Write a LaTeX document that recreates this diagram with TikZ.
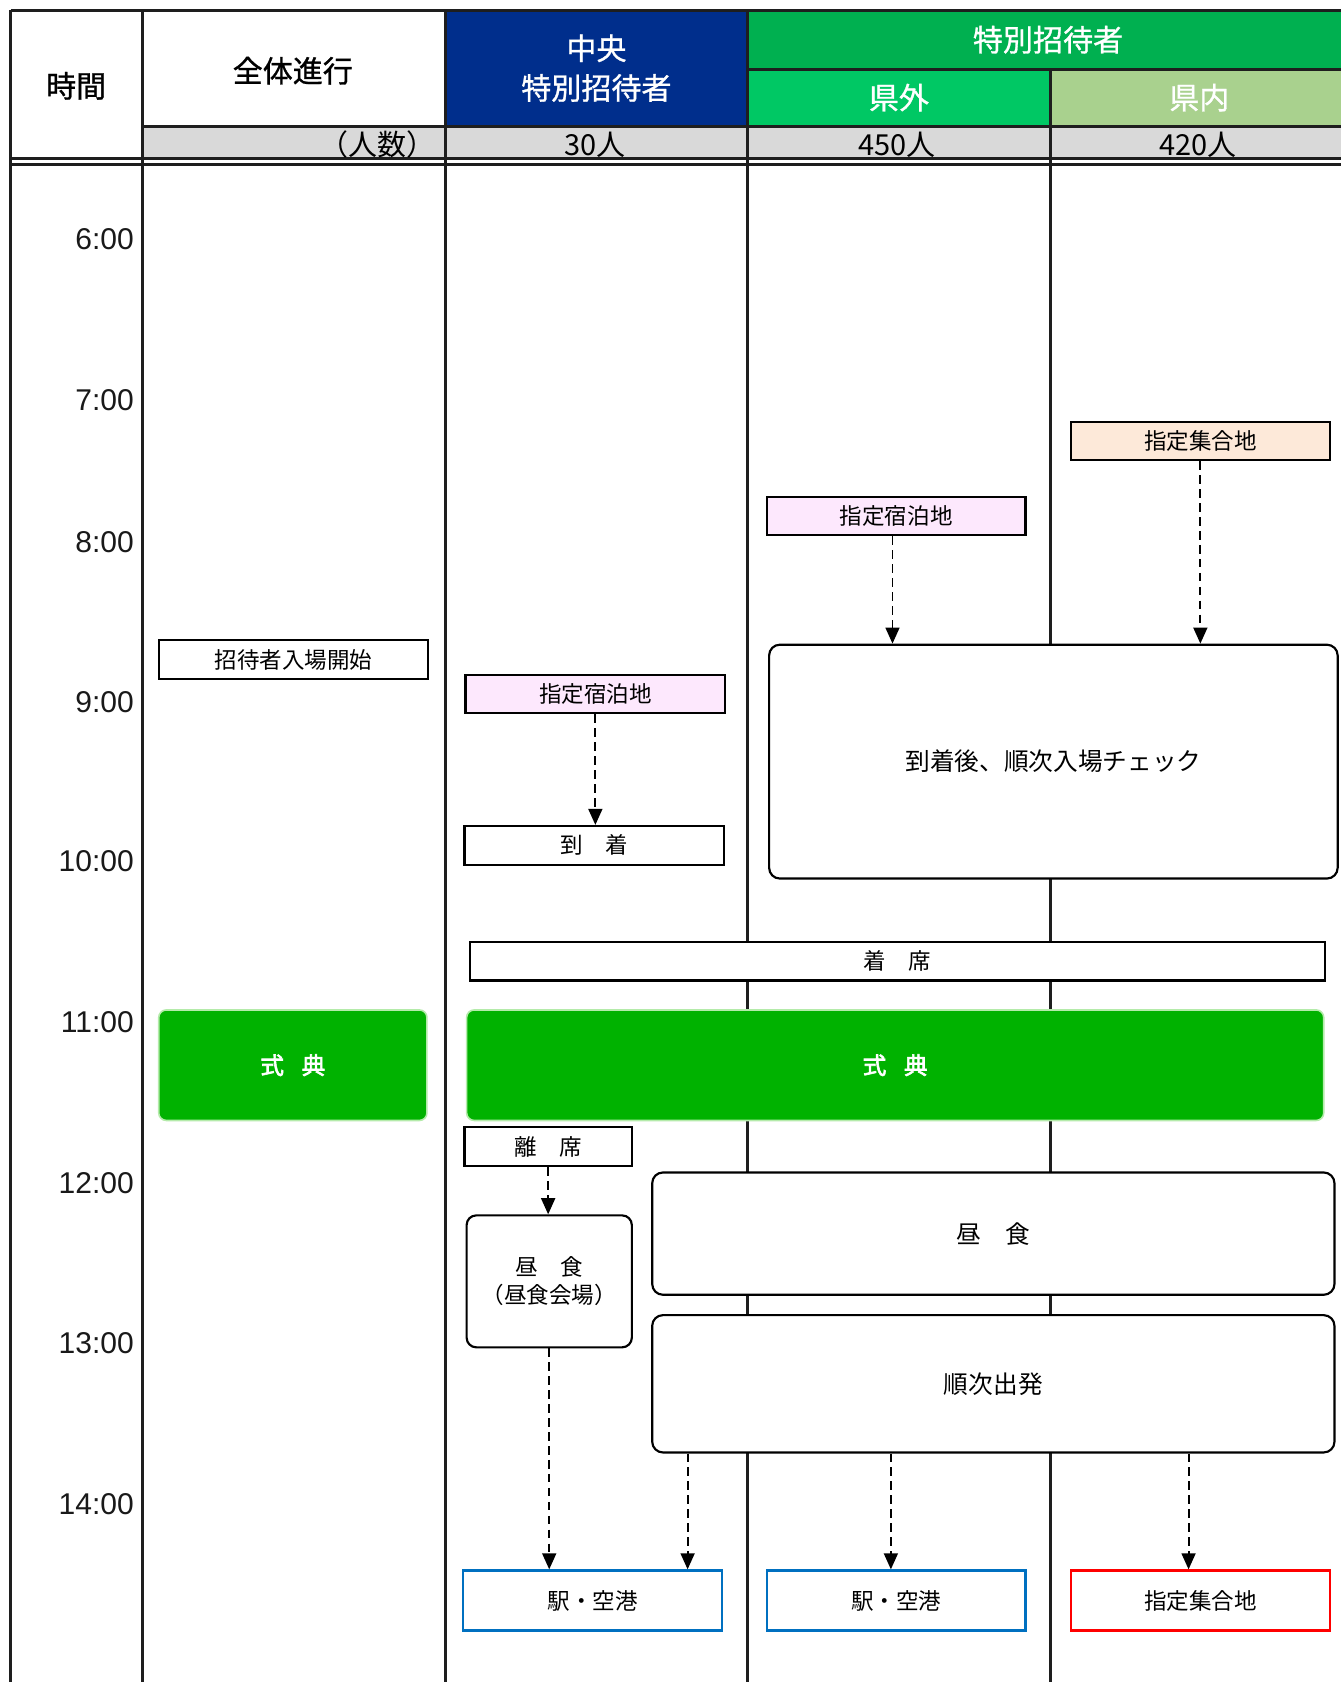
\documentclass[tikz,border=0pt]{standalone}
\usepackage{fontspec}
\setmainfont{Liberation Sans}
\newfontfamily\cjk{Noto Sans CJK JP}
\newfontfamily\cjkh{Noto Sans CJK JP}[FakeBold=1]
\newfontfamily\cjkb{Noto Sans CJK JP}[FakeBold=2.5]
\usetikzlibrary{arrows.meta,calc}
\definecolor{hdrblue}{RGB}{0,46,140}
\definecolor{hdrgreen}{RGB}{0,176,80}
\definecolor{kengai}{RGB}{0,200,100}
\definecolor{kennai}{RGB}{169,209,142}
\definecolor{grayrow}{RGB}{217,217,217}
\definecolor{pinkfill}{RGB}{253,232,253}
\definecolor{peachfill}{RGB}{253,233,217}
\definecolor{shikigreen}{RGB}{0,178,0}
\definecolor{shikiborder}{RGB}{180,235,170}
\definecolor{ekiblue}{RGB}{0,112,192}
\definecolor{shugored}{RGB}{255,0,0}
\definecolor{linegray}{RGB}{30,30,30}
\tikzset{
  gridline/.style={line width=2.6pt, draw=linegray},
  hdrtext/.style={font=\cjkh\fontsize{28}{34}\selectfont, inner sep=0pt, align=center},
  cnttext/.style={font=\cjk\fontsize{27}{30}\selectfont, inner sep=0pt},
  timelbl/.style={font=\fontsize{28}{32}\selectfont, text=black!90, anchor=east, inner sep=0pt},
  boxA/.style={draw=black, line width=2pt, fill=white, rectangle, inner sep=0pt,
     font=\cjk\fontsize{21}{26}\selectfont, align=center},
  rboxA/.style={boxA, rounded corners=10pt, font=\cjk\fontsize{23}{28}\selectfont},
  shikiten/.style={draw=shikiborder, line width=1.5pt, fill=shikigreen, rounded corners=7pt,
     inner sep=0pt, text=white, font=\cjkb\fontsize{22}{26}\selectfont},
  darr/.style={line width=1.8pt, dash pattern=on 8pt off 5pt, -{Triangle[length=15pt,width=13pt]}}
}
\begin{document}
\begin{tikzpicture}[x=1pt,y=-1pt]
\fill[white] (0,0) rectangle (1250,1568);
\useasboundingbox (0,0) rectangle (1250,1568);
% header fills
\fill[hdrblue] (415,10) rectangle (697,118);
\fill[hdrgreen] (697,10) rectangle (1250,65);
\fill[kengai] (697,65) rectangle (979,118);
\fill[kennai] (979,65) rectangle (1250,118);
\fill[grayrow] (133,118) rectangle (1250,148);
% grid
\draw[gridline] (10,10) -- (1250,10);
\draw[gridline] (10,9) -- (10,1568);
\draw[gridline] (133,10) -- (133,1568);
\draw[gridline] (415,10) -- (415,1568);
\draw[gridline] (697,10) -- (697,1568);
\draw[gridline] (979,65) -- (979,1568);
\draw[gridline] (697,65) -- (1250,65);
\draw[gridline] (133,118) -- (1250,118);
\draw[gridline] (10,148) -- (1250,148);
\draw[gridline] (10,153.5) -- (1250,153.5);
% header texts
\node[hdrtext] (hjikan) at (71,80) {時間};
\node[hdrtext] (hzentai) at (273,66) {全体進行};
\node[hdrtext, text=white] (hchuo1) at (556,45) {中央};
\node[hdrtext, text=white] (hchuo2) at (556,82) {特別招待者};
\node[hdrtext, text=white] (htokubetsu) at (977,37) {特別招待者};
\node[hdrtext, text=white] (hkengai) at (838,91) {県外};
\node[hdrtext, text=white] (hkennai) at (1118,91) {県内};
\node[cnttext, anchor=east] (cninzu) at (406,135) {（人数）};
\node[cnttext] (c30) at (555,135) {30人};
\node[cnttext] (c450) at (836,135) {450人};
\node[cnttext] (c420) at (1117,135) {420人};
% time labels
\node[timelbl] (t6) at (125,223) {6:00};
\node[timelbl] (t7) at (125,373) {7:00};
\node[timelbl] (t8) at (125,505) {8:00};
\node[timelbl] (t9) at (125,655) {9:00};
\node[timelbl] (t10) at (125,803) {10:00};
\node[timelbl] (t11) at (125,953) {11:00};
\node[timelbl] (t12) at (125,1103) {12:00};
\node[timelbl] (t13) at (125,1252) {13:00};
\node[timelbl] (t14) at (125,1402) {14:00};
% boxes
\node[boxA, minimum width=251pt, minimum height=36pt] (shotai) at (273.5,615) {招待者入場開始};
\node[boxA, fill=pinkfill, minimum width=242pt, minimum height=36pt] (shuku1) at (555,647) {指定宿泊地};
\node[boxA, minimum width=242pt, minimum height=36pt] (touchaku) at (554,788) {到　着};
\node[boxA, fill=pinkfill, minimum width=241pt, minimum height=36pt] (shuku2) at (835.5,481) {指定宿泊地};
\node[boxA, fill=peachfill, minimum width=242pt, minimum height=36pt] (shugo1) at (1119,411) {指定集合地};
\node[rboxA, minimum width=530pt, minimum height=218pt] (check) at (982,710) {到着後、順次入場チェック};
\node[boxA, minimum width=797pt, minimum height=36pt] (chakuseki) at (836.5,896) {着　席};
\node[shikiten, minimum width=250pt, minimum height=103pt] (shiki1) at (273,993) {式\hspace{0.75em}典};
\node[shikiten, minimum width=799pt, minimum height=103pt] (shiki2) at (834.5,993) {式\hspace{0.75em}典};
\node[boxA, minimum width=156pt, minimum height=36pt] (riseki) at (511,1069) {離　席};
\node[rboxA, rounded corners=9pt, font=\cjk\fontsize{21}{26}\selectfont, minimum width=154pt, minimum height=123pt] (lunch1) at (512,1194.5) {昼　食\\（昼食会場）};
\node[rboxA, minimum width=636pt, minimum height=114pt] (lunch2) at (926,1150) {昼　食};
\node[rboxA, minimum width=636pt, minimum height=128pt] (junji) at (926,1290) {順次出発};
\node[boxA, draw=ekiblue, minimum width=241pt, minimum height=56pt] (ekiA) at (552.5,1492) {駅・空港};
\node[boxA, draw=ekiblue, minimum width=241pt, minimum height=56pt] (ekiB) at (835.5,1492) {駅・空港};
\node[boxA, draw=shugored, minimum width=242pt, minimum height=56pt] (shugo2) at (1119,1492) {指定集合地};
% connectors
\draw[darr] (shuku1.south) -- (shuku1.south |- touchaku.north);
\coordinate (a2) at ($(shuku2.south)+(-3.5,0)$);
\draw[darr] (a2) -- (a2 |- check.north);
\draw[darr] (shugo1.south) -- (shugo1.south |- check.north);
\draw[darr] (riseki.south) -- (riseki.south |- lunch1.north);
\draw[darr] (lunch1.south) -- (lunch1.south |- ekiA.north);
\coordinate (j1) at ($(junji.south west)+(34,0)$);
\draw[darr] (j1) -- (j1 |- ekiA.north);
\coordinate (j2) at ($(ekiB.north |- junji.south)+(-5,0)$);
\draw[darr] (j2) -- (j2 |- ekiB.north);
\coordinate (j3) at ($(shugo2.north |- junji.south)+(-11,0)$);
\draw[darr] (j3) -- (j3 |- shugo2.north);
\end{tikzpicture}
\end{document}
